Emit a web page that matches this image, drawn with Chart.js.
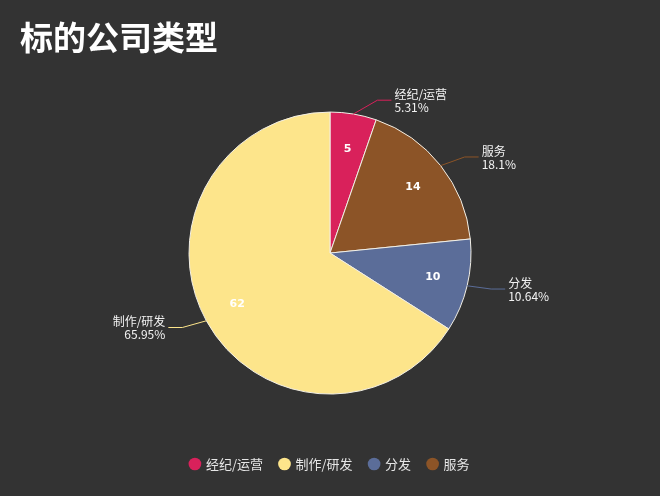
<!DOCTYPE html>
<html lang="zh-CN">
<head>
    <meta charset="UTF-8">
    <title>标的公司类型</title>
    <script src="https://cdn.jsdelivr.net/npm/chart.js"></script>
    <style>
        body { margin: 0; background: #333333; }
        .wrap { width: 660px; height: 496px; }
    </style>
</head>
<body>
    <div class="wrap">
        <canvas id="typeChart" width="660" height="496"></canvas>
    </div>
    <script>
        // 数据（按饼图绘制顺序，从12点方向顺时针）
        const categories = ['经纪/运营', '服务', '分发', '制作/研发'];
        const shares = [5.31, 18.1, 10.64, 65.95];   // 占比 %
        const counts = [5, 14, 10, 62];              // 扇区内数字
        const legendOrder = ['经纪/运营', '制作/研发', '分发', '服务'];
        const colors = ['#d9215b', '#8c5427', '#5b6d99', '#fde58b'];

        const cjk = '"Noto Sans CJK SC", "Noto Sans", sans-serif';

        // 扇区内数字 + 外侧引导线标签
        const pieLabels = {
            id: 'pieLabels',
            afterDatasetsDraw(chart) {
                const ctx = chart.ctx;
                const meta = chart.getDatasetMeta(0);
                meta.data.forEach(function(arc, i) {
                    const mid = (arc.startAngle + arc.endAngle) / 2;
                    const r = arc.outerRadius;
                    const cos = Math.cos(mid), sin = Math.sin(mid);

                    ctx.save();
                    ctx.fillStyle = '#ffffff';
                    ctx.font = 'bold 11px "DejaVu Sans", sans-serif';
                    ctx.textAlign = 'center';
                    ctx.textBaseline = 'middle';
                    ctx.fillText(String(counts[i]), arc.x + cos * r * 0.75, arc.y + sin * r * 0.75);

                    // 引导线
                    const side = cos >= 0 ? 1 : -1;
                    const x0 = arc.x + cos * r, y0 = arc.y + sin * r;
                    const x1 = x0 + side * 24, y1 = y0 + sin * 14;
                    const x2 = x1 + side * 14;
                    ctx.strokeStyle = colors[i];
                    ctx.lineWidth = 1;
                    ctx.beginPath();
                    ctx.moveTo(x0, y0);
                    ctx.lineTo(x1, y1);
                    ctx.lineTo(x2, y1);
                    ctx.stroke();

                    ctx.fillStyle = '#f2f2f2';
                    ctx.font = '12px ' + cjk;
                    ctx.textAlign = side > 0 ? 'left' : 'right';
                    const tx = x2 + side * 3;
                    ctx.fillText(categories[i], tx, y1 - 6);
                    ctx.fillText(shares[i] + '%', tx, y1 + 7);
                    ctx.restore();
                });
            }
        };

        new Chart(document.getElementById('typeChart'), {
            type: 'pie',
            data: {
                labels: categories,
                datasets: [{
                    data: shares,
                    backgroundColor: colors,
                    borderColor: '#f2efe6',
                    borderWidth: 1,
                    radius: 141
                }]
            },
            options: {
                responsive: false,
                animation: false,
                layout: {
                    padding: { top: 18, bottom: 15.5, left: 20, right: 20 }
                },
                plugins: {
                    title: {
                        display: true,
                        text: '标的公司类型',
                        align: 'start',
                        color: '#ffffff',
                        font: { family: cjk, size: 33, weight: 'bold' },
                        padding: { top: 0, bottom: 8 }
                    },
                    legend: {
                        position: 'bottom',
                        labels: {
                            usePointStyle: true,
                            pointStyle: 'circle',
                            boxWidth: 9,
                            boxHeight: 9,
                            padding: 17,
                            color: '#e6e6e6',
                            font: { family: cjk, size: 13 },
                            generateLabels(chart) {
                                const items = Chart.overrides.pie.plugins.legend.labels.generateLabels(chart);
                                return items.map(function(it) {
                                    it.strokeStyle = it.fillStyle;
                                    it.lineWidth = 0;
                                    return it;
                                });
                            },
                            sort(a, b) {
                                return legendOrder.indexOf(a.text) - legendOrder.indexOf(b.text);
                            }
                        }
                    },
                    tooltip: { enabled: false }
                }
            },
            plugins: [pieLabels]
        });
    </script>
</body>
</html>
